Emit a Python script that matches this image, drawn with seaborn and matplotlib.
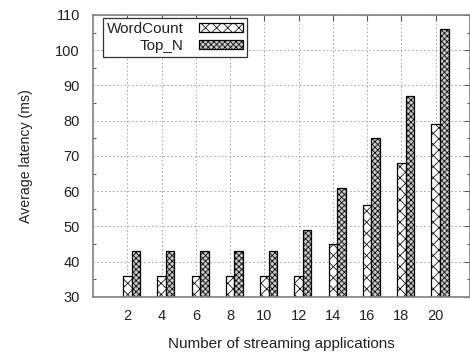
import matplotlib
matplotlib.use("Agg")
import matplotlib.pyplot as plt
import seaborn as sns
import pandas as pd
import numpy as np
from matplotlib.ticker import MultipleLocator

apps = [2, 4, 6, 8, 10, 12, 14, 16, 18, 20]
wordcount = [36, 36, 36, 36, 36, 36, 45, 56, 68, 79]
top_n = [43, 43, 43, 43, 43, 49, 61, 75, 87, 106]
series_names = ["WordCount", "Top_N"]

df = pd.DataFrame({
    "apps": [str(a) for a in apps] * 2,
    "latency": wordcount + top_n,
    "series": [series_names[0]] * len(apps) + [series_names[1]] * len(apps),
})

sns.set_theme(style="white")
plt.rcParams["font.family"] = ["Liberation Sans", "DejaVu Sans"]
plt.rcParams["hatch.linewidth"] = 0.55

fig = plt.figure(figsize=(4.7, 3.55), dpi=100)
ax = fig.add_axes([93 / 470, 58 / 355, 377 / 470, 282 / 355])

sns.barplot(data=df, x="apps", y="latency", hue="series", hue_order=series_names,
            width=0.5, gap=0, dodge=True, legend=False, ax=ax,
            edgecolor="black", linewidth=0.9)

styles = [("white", "xxx"), ("#c8c8c8", "xxxxxx")]
for cont, (fc, hatch) in zip(ax.containers, styles):
    for p in cont.patches:
        p.set_facecolor(fc)
        p.set_hatch(hatch)
        p.set_edgecolor("black")
        p.set_linewidth(0.9)

# gnuplot-style ticks at the first bar of each group
offset = 0.125
ax.set_xticks(np.arange(len(apps)) - offset, [str(a) for a in apps])
ax.set_xlim(-1 - offset, len(apps) - offset)
ax.set_ylim(30, 110)
ax.yaxis.set_major_locator(MultipleLocator(10))
ax.yaxis.set_minor_locator(MultipleLocator(5))

ax.grid(True, which="major", axis="both", linestyle=(0, (1.5, 2.5)), color="#a0a0a0", linewidth=0.7)
ax.set_axisbelow(True)

for s in ax.spines.values():
    s.set_visible(True)
    s.set_color("#808080")
    s.set_linewidth(1.2)

ax.tick_params(axis="both", which="major", direction="in", length=4, width=0.8,
               color="#555555", top=True, right=True, labelsize=10.5, labelcolor="#222222", pad=9)
ax.tick_params(axis="y", which="minor", direction="in", length=2.5, width=0.8,
               color="#555555", left=True, right=True)
ax.tick_params(axis="y", which="major", pad=9.5)

ax.set_xlabel("Number of streaming applications", fontsize=11, color="#222222", labelpad=10)
ax.set_ylabel("Average latency (ms)", fontsize=10.2, color="#222222")
ax.yaxis.set_label_coords(-0.158, 0.5)

leg = ax.legend(ax.containers, series_names, loc="upper left", bbox_to_anchor=(0.027, 0.989),
                markerfirst=False, frameon=True, fancybox=False, framealpha=1,
                edgecolor="#333333", fontsize=11, handlelength=2.9, handleheight=0.55,
                handletextpad=1.0, labelspacing=0.22, borderpad=0.25, borderaxespad=0)
leg.get_frame().set_linewidth(0.9)
for t in leg.get_texts():
    t.set_color("#222222")

fig.savefig("out.png", dpi=100)
